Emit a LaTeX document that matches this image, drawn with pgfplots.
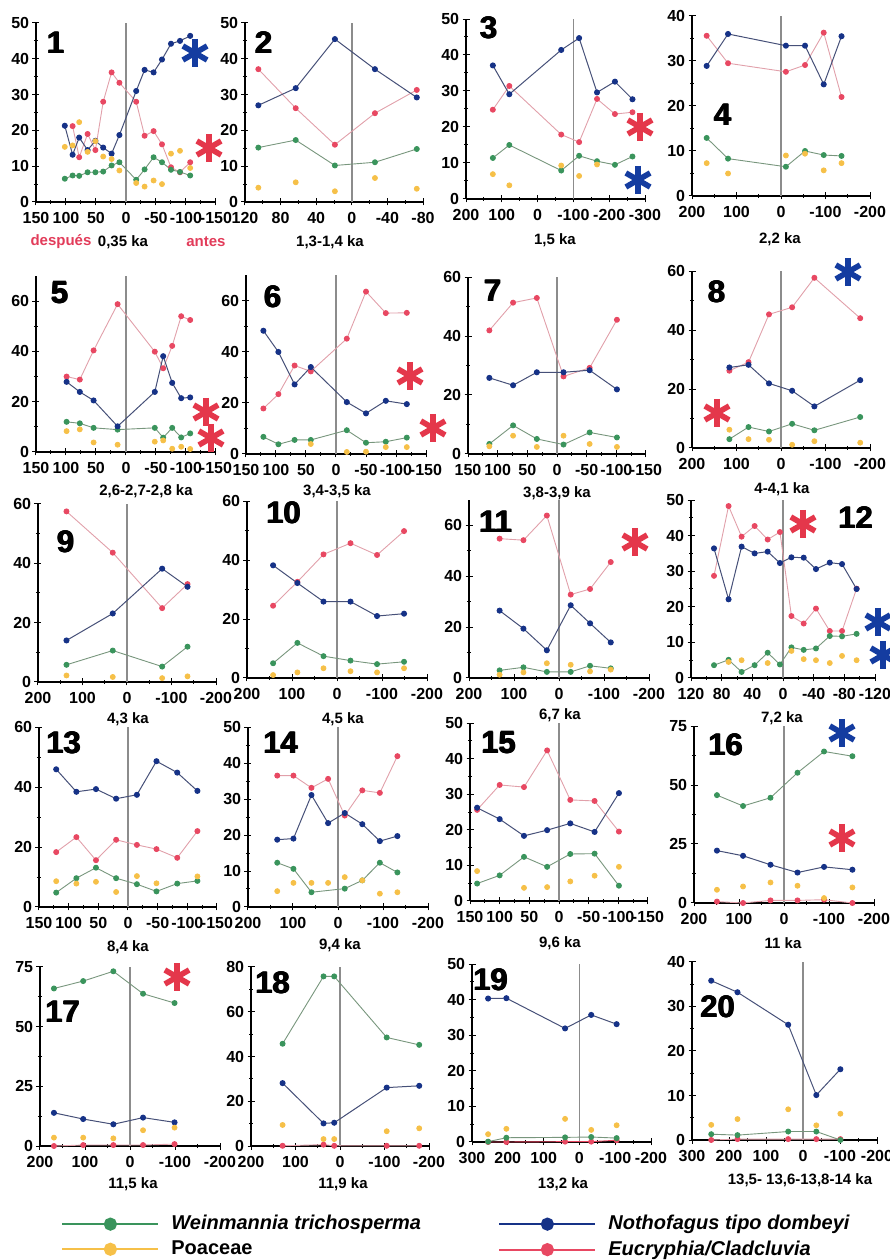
\documentclass[border=0pt]{standalone}
\usepackage{pgfplots}
\pgfplotsset{compat=1.18}
\usepackage{fontspec}
\setmainfont{Liberation Sans}

\definecolor{wmark}{RGB}{58,148,92}
\definecolor{wline}{RGB}{120,150,125}
\definecolor{nmark}{RGB}{22,50,135}
\definecolor{nline}{RGB}{70,80,120}
\definecolor{emark}{RGB}{232,72,98}
\definecolor{eline}{RGB}{225,160,170}
\definecolor{pmark}{RGB}{246,192,72}
\definecolor{zgray}{RGB}{140,140,140}
\definecolor{astred}{RGB}{228,55,75}
\definecolor{astblue}{RGB}{20,60,160}
\definecolor{labred}{RGB}{226,60,90}

\newcommand{\tickfont}{\fontsize{8}{8}\selectfont\bfseries}
\newcommand{\subfont}{\fontsize{7.5}{8}\selectfont\bfseries}
\newcommand{\numfont}{\fontsize{15.5}{15.5}\selectfont\bfseries}
\newcommand{\legfont}{\fontsize{10}{11}\selectfont\bfseries}

\pgfplotsset{
  panel/.style={
    scale only axis, anchor=south west, clip=false,
    axis x line=bottom, axis y line=left,
    axis line style={-, line width=0.7pt},
    x dir=reverse, ymin=0,
    tick align=center,
    major tick length=3.5pt, minor tick length=2pt,
    every tick/.style={black, line width=0.5pt},
    minor x tick num=1, minor y tick num=1,
    tick label style={font=\tickfont},
    /pgf/number format/assume math mode=true,
    scaled ticks=false,
    xticklabel style={inner sep=1.5pt, yshift=-1.5pt},
    yticklabel style={inner sep=1.5pt},
  },
  wein/.style={color=wline, line width=0.45pt, mark=*, mark size=1.25pt, mark options={draw=wmark, fill=wmark}},
  noth/.style={color=nline, line width=0.5pt, mark=*, mark size=1.25pt, mark options={draw=nmark, fill=nmark}},
  eucr/.style={color=eline, line width=0.45pt, mark=*, mark size=1.25pt, mark options={draw=emark, fill=emark}},
  poa/.style={only marks, mark=*, mark size=1.25pt, mark options={draw=pmark, fill=pmark}},
}

% vertical reference line inside a panel
\newcommand{\zline}[2]{\draw[zgray, line width=0.7pt] (axis cs:#1,0) -- (axis cs:#1,#2);}
% six-armed asterisk
\newcommand{\astk}[3]{\begin{scope}[shift={(#2pt,#3pt)}]\foreach \a in {90,30,-30}{\draw[#1, line width=2.8pt] (\a:7pt) -- ({\a+180}:7pt);}\end{scope}}
% heavy panel number
\newcommand{\pnum}[3]{\foreach \d/\e in {0/0,0.3/0,0.6/0,0.3/0.3}{\node[font=\numfont, xshift=\d pt, yshift=\e pt] at (#1pt,#2pt) {#3};}}

\begin{document}
\begin{tikzpicture}

% ---------------- row 1 ----------------
\begin{axis}[panel, at={(18pt,529pt)}, width=90pt, height=89.5pt, xmin=-150, xmax=150, ymax=50,
  xtick={-150,-100,...,150}, ytick={0,10,...,50}]
\zline{0}{50}
\addplot[eucr] coordinates {(89,21.2) (78,12.5) (64,19) (51,14.5) (38,28) (24,36.2) (11,33.3) (-17,28) (-31,18.5) (-46,19.8) (-60,16.1) (-75,9.7) (-90,8.3) (-107,11.1)};
\addplot[wein] coordinates {(102,6.5) (89,7.4) (78,7.3) (64,8.3) (51,8.3) (38,8.5) (24,10.2) (11,11.1) (-17,6.2) (-31,9.1) (-46,12.5) (-60,11.1) (-75,9) (-90,8.4) (-107,7.4)};
\addplot[noth] coordinates {(102,21.3) (89,13.2) (78,18) (64,14.5) (51,17.1) (38,15.2) (24,13.5) (11,18.7) (-17,31) (-31,36.9) (-46,36.2) (-60,39.8) (-75,44.2) (-90,45) (-107,46.4)};
\addplot[poa] coordinates {(102,15.4) (89,15.8) (78,22.3) (64,14) (51,17) (38,12.7) (24,12) (11,8.8) (-17,5.3) (-31,4.3) (-46,6) (-60,5) (-75,13.5) (-90,14.3) (-107,9.5)};
\end{axis}

\begin{axis}[panel, at={(122.5pt,529pt)}, width=89pt, height=89.5pt, xmin=-80, xmax=120, ymax=50,
  xtick={-80,-40,...,120}, ytick={0,10,...,50}]
\zline{0}{50}
\addplot[eucr] coordinates {(105,37.1) (63,26.2) (19,16) (-26,24.8) (-73,31.3)};
\addplot[wein] coordinates {(105,15.2) (63,17.3) (19,10.2) (-26,11.1) (-73,14.8)};
\addplot[noth] coordinates {(105,27) (63,31.8) (19,45.5) (-26,37.1) (-73,29.2)};
\addplot[poa] coordinates {(105,4) (63,5.5) (19,3) (-26,6.7) (-73,3.7)};
\end{axis}

\begin{axis}[panel, at={(233pt,530.5pt)}, width=89.5pt, height=90pt, xmin=-300, xmax=200, ymax=50,
  xtick={-300,-200,...,200}, ytick={0,10,...,50}]
\zline{-100}{50}
\addplot[eucr] coordinates {(125,24.8) (79,31.4) (-66,17.9) (-116,15.8) (-166,27.8) (-216,23.6) (-265,24.1)};
\addplot[wein] coordinates {(125,11.4) (79,15) (-66,7.9) (-116,12) (-166,10.5) (-216,9.5) (-265,11.8)};
\addplot[noth] coordinates {(125,37.1) (79,29.1) (-66,41.4) (-116,44.7) (-166,29.6) (-216,32.6) (-265,27.7)};
\addplot[poa] coordinates {(125,6.9) (79,3.8) (-66,9.3) (-116,6.4) (-166,9.6)};
\end{axis}

\begin{axis}[panel, at={(346pt,532pt)}, width=89pt, height=90pt, xmin=-200, xmax=200, ymax=40,
  xtick={-200,-100,...,200}, ytick={0,10,...,40}]
\zline{0}{40}
\addplot[eucr] coordinates {(167,35.6) (119,29.5) (-11,27.6) (-54,29.1) (-96,36.3) (-136,22)};
\addplot[wein] coordinates {(167,12.9) (119,8.3) (-11,6.5) (-54,10) (-96,9.1) (-136,8.9)};
\addplot[noth] coordinates {(167,28.9) (119,36) (-11,33.4) (-54,33.4) (-96,24.8) (-136,35.5)};
\addplot[poa] coordinates {(167,7.3) (119,5) (-11,9) (-54,9.4) (-96,5.7) (-136,7.3)};
\end{axis}

% ---------------- row 2 ----------------
\begin{axis}[panel, at={(18pt,404pt)}, width=90pt, height=88pt, xmin=-150, xmax=150, ymax=70,
  xtick={-150,-100,...,150}, ytick={0,20,40,60}]
\zline{0}{70}
\addplot[eucr] coordinates {(99,30) (77,28.8) (54,40.4) (14,58.8) (-48,39.9) (-62,33.3) (-77,42.2) (-92,54) (-107,52.5)};
\addplot[wein] coordinates {(99,12) (77,11.4) (54,9.6) (14,8.9) (-48,9.6) (-62,5.7) (-77,9.6) (-92,5.8) (-107,7.4)};
\addplot[noth] coordinates {(99,27.9) (77,23.9) (54,20.5) (14,10.2) (-48,23.9) (-62,38.1) (-77,27.5) (-92,21.4) (-107,21.7)};
\addplot[poa] coordinates {(99,8.3) (77,9) (54,3.8) (14,2.9) (-48,4.1) (-62,4.6) (-77,1.3) (-92,2.1) (-107,1.2)};
\end{axis}

\begin{axis}[panel, at={(123pt,403pt)}, width=90pt, height=89.5pt, xmin=-150, xmax=150, ymax=70,
  xtick={-150,-100,...,150}, ytick={0,20,40,60}]
\zline{0}{70}
\addplot[eucr] coordinates {(121,17.8) (96,23.4) (69,34.6) (42,32.3) (-18,45.1) (-50,63.5) (-83,55.1) (-118,55.2)};
\addplot[wein] coordinates {(121,6.7) (96,3.8) (69,5.5) (42,5.5) (-18,9.3) (-50,4.4) (-83,4.8) (-118,6.4)};
\addplot[noth] coordinates {(121,48.2) (96,39.9) (69,27.2) (42,34) (-18,20.3) (-50,15.9) (-83,20.8) (-118,19.5)};
\addplot[poa] coordinates {(42,3.9) (-18,0.8) (-50,0.9) (-83,2.7) (-118,2.7)};
\end{axis}

\begin{axis}[panel, at={(234pt,403pt)}, width=89pt, height=88.5pt, xmin=-150, xmax=150, ymax=60,
  xtick={-150,-100,...,150}, ytick={0,20,40,60}]
\zline{0}{60}
\addplot[eucr] coordinates {(114,41.9) (74,51.3) (34,52.9) (-11,26.3) (-55,29.2) (-101,45.5)};
\addplot[wein] coordinates {(114,3.4) (74,9.7) (34,5.1) (-11,3.2) (-55,7.3) (-101,5.6)};
\addplot[noth] coordinates {(114,25.8) (74,23.3) (34,27.7) (-11,27.7) (-55,28.4) (-101,21.9)};
\addplot[poa] coordinates {(114,2.6) (74,6.2) (34,2.4) (-11,6.2) (-55,3.4) (-101,2.4)};
\end{axis}

\begin{axis}[panel, at={(346pt,406pt)}, width=89pt, height=88.5pt, xmin=-200, xmax=200, ymax=60,
  xtick={-200,-100,...,200}, ytick={0,20,40,60}]
\zline{0}{60}
\addplot[eucr] coordinates {(116,26.2) (73,29.1) (27,45.3) (-25,47.7) (-75,57.7) (-178,44)};
\addplot[wein] coordinates {(116,3) (73,7.1) (27,5.6) (-25,8.2) (-75,6) (-178,10.5)};
\addplot[noth] coordinates {(116,27.3) (73,28.2) (27,21.9) (-25,19.4) (-75,14.1) (-178,23)};
\addplot[poa] coordinates {(116,6.2) (73,3) (27,2.8) (-25,1.1) (-75,2.3) (-178,1.8)};
\end{axis}

% ---------------- row 3 ----------------
\begin{axis}[panel, at={(19pt,289pt)}, width=89pt, height=89pt, xmin=-200, xmax=200, ymax=60,
  xtick={-200,-100,...,200}, ytick={0,20,40,60}]
\zline{0}{60}
\addplot[eucr] coordinates {(136,57.5) (32,43.6) (-79,24.9) (-136,33)};
\addplot[wein] coordinates {(136,5.8) (32,10.6) (-79,5.2) (-136,11.9)};
\addplot[noth] coordinates {(136,14) (32,23.1) (-79,38.2) (-136,32.1)};
\addplot[poa] coordinates {(136,2.2) (32,1.7) (-79,1.3) (-136,1.9)};
\end{axis}

\begin{axis}[panel, at={(123.5pt,291pt)}, width=90pt, height=88.5pt, xmin=-200, xmax=200, ymax=60,
  xtick={-200,-100,...,200}, ytick={0,20,40,60}]
\zline{0}{60}
\addplot[eucr] coordinates {(142,24.5) (88,32.6) (30,41.9) (-30,45.7) (-89,41.7) (-149,49.8)};
\addplot[wein] coordinates {(142,5) (88,11.9) (30,7.4) (-30,5.9) (-89,4.7) (-149,5.5)};
\addplot[noth] coordinates {(142,38.2) (88,32.2) (30,25.9) (-30,25.9) (-89,21) (-149,21.8)};
\addplot[poa] coordinates {(142,1) (88,1.9) (30,3.3) (-30,2.3) (-89,1.9) (-149,3.3)};
\end{axis}

\begin{axis}[panel, at={(234.5pt,291pt)}, width=90pt, height=89pt, xmin=-200, xmax=200, ymax=70,
  xtick={-200,-100,...,200}, ytick={0,20,40,60}]
\zline{0}{70}
\addplot[eucr] coordinates {(132,54.8) (79,54.2) (27,63.9) (-26,32.8) (-69,35) (-115,45.6)};
\addplot[wein] coordinates {(132,3) (79,4.2) (27,2.4) (-26,2.4) (-69,4.8) (-115,3.8)};
\addplot[noth] coordinates {(132,26.5) (79,19.4) (27,10.9) (-26,28.6) (-69,21.5) (-115,14)};
\addplot[poa] coordinates {(132,1.3) (79,2.2) (27,5.8) (-26,5.2) (-69,2.6) (-115,3.3)};
\end{axis}

\begin{axis}[panel, at={(345.5pt,291pt)}, width=92pt, height=89pt, xmin=-120, xmax=120, ymax=50,
  xtick={-120,-80,...,120}, ytick={0,10,...,50}]
\zline{0}{50}
\addplot[eucr] coordinates {(90,28.7) (71,48.3) (54,39.7) (37,42.7) (20,38.9) (4,41) (-11,17.4) (-27,15.3) (-43,19.5) (-61,13.2) (-77,13.2) (-96,25.1)};
\addplot[wein] coordinates {(90,3.6) (71,5.1) (54,1.7) (37,3.6) (20,7.1) (4,3.8) (-11,8.6) (-27,7.9) (-43,8.3) (-61,11.8) (-77,11.7) (-96,12.4)};
\addplot[noth] coordinates {(90,36.4) (71,22.1) (54,36.9) (37,35) (20,35.5) (4,32.3) (-11,33.9) (-27,33.8) (-43,30.6) (-61,32.4) (-77,32) (-96,25)};
\addplot[poa] coordinates {(71,4.5) (54,5) (20,4.2) (-11,7.6) (-27,5.3) (-43,5) (-61,4.2) (-77,6.2) (-96,5)};
\end{axis}

% ---------------- row 4 ----------------
\begin{axis}[panel, at={(19.5pt,176.5pt)}, width=89pt, height=90pt, xmin=-150, xmax=150, ymax=60,
  xtick={-150,-100,...,150}, ytick={0,20,40,60}]
\zline{0}{60}
\addplot[eucr] coordinates {(121,18.3) (87,23.3) (54,15.6) (20,22.4) (-15,20.7) (-48,19.3) (-83,16.4) (-117,25.3)};
\addplot[wein] coordinates {(121,4.8) (87,9.6) (54,13.1) (20,9.6) (-15,7.6) (-48,5.2) (-83,7.8) (-117,8.7)};
\addplot[noth] coordinates {(121,45.9) (87,38.4) (54,39.3) (20,36.1) (-15,37.4) (-48,48.6) (-83,44.8) (-117,38.7)};
\addplot[poa] coordinates {(121,8.6) (87,7.8) (54,8.4) (20,5) (-15,10.3) (-48,7.9) (-117,10.2)};
\end{axis}

\begin{axis}[panel, at={(124pt,176.5pt)}, width=90pt, height=90pt, xmin=-200, xmax=200, ymax=50,
  xtick={-200,-100,...,200}, ytick={0,10,...,50}]
\zline{0}{50}
\addplot[eucr] coordinates {(135,36.5) (99,36.5) (59,33.1) (22,35.6) (-15,25.4) (-54,32.4) (-93,31.7) (-132,41.9)};
\addplot[wein] coordinates {(135,12.3) (99,10.6) (59,4.1) (-15,5.1) (-54,7.4) (-93,12.3) (-132,9.6)};
\addplot[noth] coordinates {(135,18.7) (99,19) (59,31.1) (22,23.3) (-15,26.1) (-54,23) (-93,18.3) (-132,19.7)};
\addplot[poa] coordinates {(135,4.4) (99,6.7) (59,6.7) (22,6.7) (-15,8.3) (-54,7.4) (-93,3.7) (-132,4.1)};
\end{axis}

\begin{axis}[panel, at={(235pt,179.5pt)}, width=89pt, height=89pt, xmin=-150, xmax=150, ymax=50,
  xtick={-150,-100,...,150}, ytick={0,10,...,50}]
\zline{0}{50}
\addplot[eucr] coordinates {(138,25.6) (100,32.6) (59,32) (20,42.3) (-19,28.4) (-60,28.1) (-101,19.5)};
\addplot[wein] coordinates {(138,4.9) (100,7.2) (59,12.4) (20,9.6) (-19,13.2) (-60,13.3) (-101,4.3)};
\addplot[noth] coordinates {(138,26.2) (100,23) (59,18.3) (20,19.9) (-19,21.8) (-60,19.4) (-101,30.3)};
\addplot[poa] coordinates {(138,8.4) (59,3.7) (20,3.9) (-19,5.5) (-60,7.1) (-101,9.6)};
\end{axis}

\begin{axis}[panel, at={(347pt,178.5pt)}, width=90pt, height=88.5pt, xmin=-200, xmax=200, ymax=75,
  xtick={-200,-100,...,200}, ytick={0,25,50,75}]
\zline{0}{75}
\addplot[eucr] coordinates {(149,0.6) (91,0) (30,1.1) (-30,1.1) (-89,1.4) (-152,0)};
\addplot[wein] coordinates {(149,45.7) (91,41.1) (30,44.6) (-30,55.2) (-89,64.2) (-152,62.2)};
\addplot[noth] coordinates {(149,22.2) (91,20) (30,16.2) (-30,12.9) (-89,15.3) (-152,14.1)};
\addplot[poa] coordinates {(149,5.6) (91,7) (30,8.7) (-30,7.3) (-89,2.1) (-152,6.6)};
\end{axis}

% ---------------- row 5 ----------------
\begin{axis}[panel, at={(20pt,57pt)}, width=90pt, height=89.5pt, xmin=-200, xmax=200, ymax=75,
  xtick={-200,-100,...,200}, ytick={0,25,50,75}]
\zline{0}{75}
\addplot[eucr] coordinates {(169,0) (104,0.4) (37,0.4) (-29,0.4) (-99,0.8)};
\addplot[wein] coordinates {(169,66) (104,69.1) (37,73.2) (-29,63.8) (-99,59.9)};
\addplot[noth] coordinates {(169,13.9) (104,11.3) (37,9.1) (-29,11.9) (-99,9.9)};
\addplot[poa] coordinates {(169,3.5) (104,3.5) (37,3.2) (-29,6.6) (-99,7.7)};
\end{axis}

\begin{axis}[panel, at={(125.5pt,57pt)}, width=89pt, height=89.5pt, xmin=-200, xmax=200, ymax=80,
  xtick={-200,-100,...,200}, ytick={0,20,...,80}]
\zline{0}{80}
\addplot[eucr] coordinates {(129,0.1) (37,0.6) (13,0.1) (-105,0.1) (-178,0.1)};
\addplot[wein] coordinates {(129,45.7) (37,75.8) (13,75.8) (-105,48.5) (-178,45.2)};
\addplot[noth] coordinates {(129,28.1) (37,10.1) (13,10.4) (-105,26.1) (-178,26.9)};
\addplot[poa] coordinates {(129,9.4) (37,3.1) (13,3.1) (-105,6.6) (-178,7.9)};
\end{axis}

\begin{axis}[panel, at={(236pt,59pt)}, width=89.5pt, height=89pt, xmin=-200, xmax=300, ymax=50,
  xtick={-200,-100,...,300}, ytick={0,10,...,50}]
\zline{0}{50}
\addplot[eucr, color=emark] coordinates {(255,0) (204,0) (40,0.1) (-33,0.1) (-104,0.5)};
\addplot[wein] coordinates {(255,0.1) (204,1.2) (40,1.3) (-33,1.4) (-104,1.1)};
\addplot[noth] coordinates {(255,40.3) (204,40.4) (40,31.9) (-33,35.7) (-104,33.1)};
\addplot[poa] coordinates {(255,2.2) (204,3.7) (40,6.5) (-33,3.4) (-104,4.7)};
\end{axis}

\begin{axis}[panel, at={(346pt,60pt)}, width=92.5pt, height=89pt, xmin=-200, xmax=300, ymax=40,
  xtick={-200,-100,...,300}, ytick={0,10,...,40}]
\zline{0}{40}
\addplot[eucr] coordinates {(248,0) (177,0.2) (40,0.2) (-36,0.2) (-101,0.2)};
\addplot[wein] coordinates {(248,1.3) (177,1.1) (40,1.9) (-36,1.9) (-101,0)};
\addplot[noth] coordinates {(248,35.8) (177,33.2) (40,25.9) (-36,10.1) (-101,15.9)};
\addplot[poa] coordinates {(248,3.4) (177,4.7) (40,6.9) (-36,3.3) (-101,5.9)};
\end{axis}

% ---------------- legend ----------------
\pgfplotsset{
  legbox/.style={hide axis, scale only axis, anchor=south west, width=100pt, height=23.5pt,
    xmin=0, xmax=1, ymin=0, ymax=1,
    legend style={at={(0,1)}, anchor=north west, draw=none, fill=none, inner sep=0pt,
      row sep=2pt, font=\legfont, cells={anchor=west},
      nodes={inner sep=1pt},
      /tikz/every odd column/.style={column sep=5pt}},
    legend image code/.code={\draw[mark repeat=2, mark phase=2, ##1] plot coordinates {(0pt,0pt) (24pt,0pt) (48pt,0pt)};}},
}
\begin{axis}[legbox, at={(30.5pt,0pt)}]
\addlegendimage{color=wmark, line width=1pt, mark=*, mark size=2.8pt, mark options={fill=wmark}}
\addlegendentry{\itshape Weinmannia trichosperma}
\addlegendimage{color=pmark, line width=1pt, mark=*, mark size=2.8pt, mark options={fill=pmark}}
\addlegendentry{Poaceae}
\end{axis}
\begin{axis}[legbox, at={(249pt,0pt)}]
\addlegendimage{color=nmark, line width=1pt, mark=*, mark size=2.8pt, mark options={fill=nmark}}
\addlegendentry{\itshape Nothofagus tipo dombeyi}
\addlegendimage{color=emark, line width=1pt, mark=*, mark size=2.8pt, mark options={fill=emark}}
\addlegendentry{\itshape Eucryphia/Cladcluvia}
\end{axis}

% ---------------- panel numbers ----------------
\pnum{27.5}{608.5}{1}
\pnum{131.5}{608.5}{2}
\pnum{244}{616}{3}
\pnum{361}{572.5}{4}
\pnum{29.5}{483.5}{5}
\pnum{136}{481.5}{6}
\pnum{246}{484.5}{7}
\pnum{358}{484}{8}
\pnum{32.5}{359}{9}
\pnum{141.5}{373.5}{10}
\pnum{247.5}{369}{11}
\pnum{427.5}{371}{12}
\pnum{31.5}{258.5}{13}
\pnum{140}{258.5}{14}
\pnum{249}{258.5}{15}
\pnum{362.5}{257.5}{16}
\pnum{31}{124}{17}
\pnum{136}{138.5}{18}
\pnum{245}{140}{19}
\pnum{358.5}{126.5}{20}

% ---------------- sample ages ----------------
\node[font=\subfont, text=labred] at (30.5pt,509pt) {después};
\node[font=\subfont] at (61.5pt,509pt) {0,35 ka};
\node[font=\subfont, text=labred] at (103pt,509pt) {antes};
\node[font=\subfont] at (165pt,509pt) {1,3-1,4 ka};
\node[font=\subfont] at (277.5pt,510pt) {1,5 ka};
\node[font=\subfont] at (390pt,510.5pt) {2,2 ka};
\node[font=\subfont] at (73pt,384.5pt) {2,6-2,7-2,8 ka};
\node[font=\subfont] at (168.5pt,384.5pt) {3,4-3,5 ka};
\node[font=\subfont] at (278.5pt,383.5pt) {3,8-3,9 ka};
\node[font=\subfont] at (391pt,385.5pt) {4-4,1 ka};
\node[font=\subfont] at (64pt,270.5pt) {4,3 ka};
\node[font=\subfont] at (171.5pt,270.5pt) {4,5 ka};
\node[font=\subfont] at (280pt,272.5pt) {6,7 ka};
\node[font=\subfont] at (391pt,271pt) {7,2 ka};
\node[font=\subfont] at (64pt,156.5pt) {8,4 ka};
\node[font=\subfont] at (170pt,157.5pt) {9,4 ka};
\node[font=\subfont] at (280pt,158.5pt) {9,6 ka};
\node[font=\subfont] at (391.5pt,158.5pt) {11 ka};
\node[font=\subfont] at (66.5pt,38pt) {11,5 ka};
\node[font=\subfont] at (171.5pt,38pt) {11,9 ka};
\node[font=\subfont] at (281.5pt,38pt) {13,2 ka};
\node[font=\subfont] at (400pt,40pt) {13,5- 13,6-13,8-14 ka};

% ---------------- significance asterisks ----------------
\astk{astblue}{97.5}{603.5}
\astk{astred}{104.5}{556}
\astk{astred}{320}{566.5}
\astk{astblue}{319}{540}
\astk{astred}{103}{424}
\astk{astred}{105.5}{411}
\astk{astred}{205}{442}
\astk{astred}{216.5}{416}
\astk{astblue}{424}{494}
\astk{astred}{358.5}{423.5}
\astk{astred}{317.5}{359}
\astk{astred}{401.5}{368}
\astk{astblue}{439}{319}
\astk{astblue}{441.5}{302.5}
\astk{astblue}{421}{263.5}
\astk{astred}{421}{211}
\astk{astred}{88.5}{141.5}

\pgfresetboundingbox
\path (0pt,0pt) rectangle (445pt,630pt);
\end{tikzpicture}
\end{document}
